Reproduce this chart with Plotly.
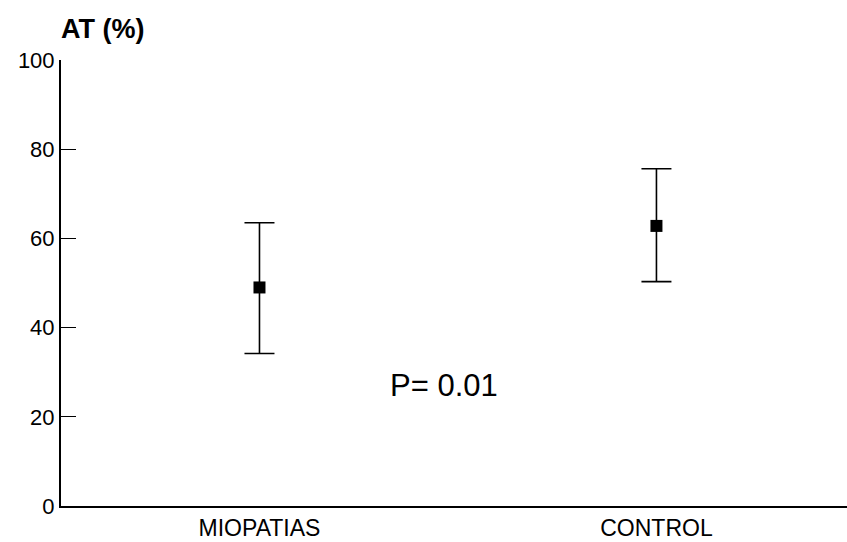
import plotly.graph_objects as go

groups = ["MIOPATIAS", "CONTROL"]
means = [49.0, 62.8]
upper = [63.5, 75.6]
lower = [34.2, 50.3]
y_ticks = [0, 20, 40, 60, 80, 100]
p_text = "P= 0.01"

xpos = list(range(len(groups)))
err_plus = [u - m for u, m in zip(upper, means)]
err_minus = [m - l for m, l in zip(means, lower)]

fig = go.Figure()
fig.add_trace(go.Scatter(
    x=xpos, y=means, mode="markers",
    marker=dict(symbol="square", size=12, color="black"),
    error_y=dict(type="data", symmetric=False, array=err_plus, arrayminus=err_minus,
                 color="black", thickness=1.6, width=15),
    showlegend=False,
))

fig.add_annotation(x=0.465, y=27.1, xref="x", yref="y", text=p_text, showarrow=False,
                   font=dict(family="Liberation Sans, Arial", size=31, color="black"))
fig.add_annotation(x=0, y=1.07, xref="paper", yref="paper", text="<b>AT (%)</b>", showarrow=False,
                   xanchor="left", yanchor="middle", xshift=-2,
                   font=dict(family="Liberation Sans, Arial", size=27, color="black"))

fig.update_layout(
    width=847, height=542,
    margin=dict(l=61, r=0, t=60, b=36),
    paper_bgcolor="white", plot_bgcolor="white",
    font=dict(family="Liberation Sans, Arial", color="black"),
    xaxis=dict(range=[-0.5, 1.48], tickvals=xpos, ticktext=groups, showline=True,
               linecolor="black", linewidth=2, showgrid=False, zeroline=False,
               ticks="", tickfont=dict(size=23)),
    yaxis=dict(range=[0, 100], tickvals=y_ticks, showline=True, linecolor="black",
               linewidth=2, showgrid=False, zeroline=False, ticks="inside",
               ticklen=15, tickwidth=1, tickcolor="black", tickfont=dict(size=22)),
)

fig.write_html("out.html")
